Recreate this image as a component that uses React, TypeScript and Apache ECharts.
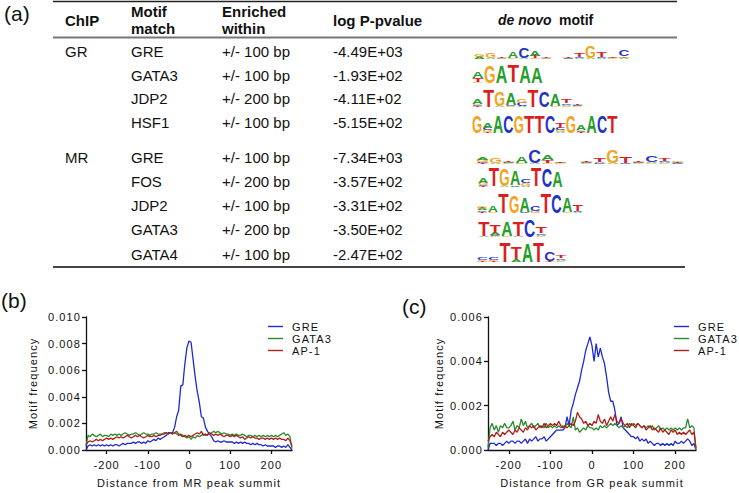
import React, { useEffect, useRef } from "react";
import * as echarts from "echarts";

// ---------------- (a) table data ----------------
const headerChip = "ChIP";
const headerMotif = ["Motif", "match"];
const headerEnriched = ["Enriched", "within"];
const headerPval = "log P-pvalue";
const chipLabels = ["GR", "", "", "", "MR", "", "", "", ""];
const motifMatches = ["GRE", "GATA3", "JDP2", "HSF1", "GRE", "FOS", "JDP2", "GATA3", "GATA4"];
const enrichedWithin = ["+/- 100 bp", "+/- 100 bp", "+/- 200 bp", "+/- 100 bp", "+/- 100 bp", "+/- 200 bp", "+/- 100 bp", "+/- 200 bp", "+/- 100 bp"];
const logPValues = ["-4.49E+03", "-1.93E+02", "-4.11E+02", "-5.15E+02", "-7.34E+03", "-3.57E+02", "-3.31E+02", "-3.50E+02", "-2.47E+02"];

// de novo motif logos: each column lists [letter, height] from top to bottom
type Stack = [string, number][];
const logoGR_GRE: Stack[] = [
  [["G", 2.5], ["A", 2]],
  [["G", 5], ["A", 1]],
  [["T", 0.8], ["A", 0.7], ["G", 0.5]],
  [["A", 6], ["G", 0.8]],
  [["C", 11], ["A", 0.8]],
  [["A", 4.5], ["T", 2.5], ["G", 0.7]],
  [["T", 0.8], ["A", 0.7], ["G", 0.5]],
  [],
  [["T", 0.8], ["A", 0.6], ["C", 0.5]],
  [["T", 4], ["C", 1], ["A", 0.8]],
  [["G", 12], ["A", 0.8]],
  [["T", 5.5], ["C", 0.8], ["A", 0.6]],
  [["T", 0.8], ["A", 0.6], ["G", 0.6]],
  [["C", 6], ["G", 1.2], ["T", 0.8], ["A", 0.6]],
];
const logoGR_GATA3: Stack[] = [
  [["A", 6], ["T", 4], ["G", 1]],
  [["G", 17]],
  [["A", 17]],
  [["T", 17]],
  [["A", 17]],
  [["A", 16]],
];
const logoGR_JDP2: Stack[] = [
  [["A", 5], ["G", 1.5], ["C", 1], ["T", 0.8]],
  [["T", 17]],
  [["G", 15], ["A", 1]],
  [["A", 12], ["C", 1], ["G", 1]],
  [["G", 4], ["C", 3.5], ["A", 0.8]],
  [["T", 17]],
  [["C", 16]],
  [["A", 12], ["G", 1]],
  [["T", 4], ["C", 1.5], ["A", 1], ["G", 1]],
  [["T", 0.8], ["A", 0.8], ["C", 0.6], ["G", 0.6]],
];
const logoGR_HSF1: Stack[] = [
  [["G", 17]],
  [["A", 5], ["C", 2], ["G", 2], ["T", 1]],
  [["A", 17]],
  [["C", 17]],
  [["G", 17]],
  [["T", 17]],
  [["T", 17]],
  [["C", 17]],
  [["T", 5], ["C", 2], ["G", 2], ["A", 1]],
  [["G", 17]],
  [["A", 5], ["G", 1.5], ["C", 1], ["T", 1]],
  [["A", 17]],
  [["C", 17]],
  [["T", 17]],
];
const logoMR_GRE: Stack[] = [
  [["A", 3], ["G", 2], ["C", 1], ["T", 1]],
  [["G", 5], ["A", 1]],
  [["T", 0.8], ["A", 0.8], ["C", 0.6], ["G", 0.6]],
  [["A", 7], ["G", 1]],
  [["C", 13], ["A", 0.8]],
  [["A", 5], ["T", 2.5], ["G", 1]],
  [["T", 0.8], ["A", 0.8], ["G", 0.6]],
  [],
  [["T", 0.8], ["A", 0.7], ["C", 0.6], ["G", 0.6]],
  [["T", 4], ["A", 1], ["C", 1]],
  [["G", 13], ["A", 1]],
  [["T", 6], ["C", 1]],
  [["T", 0.8], ["A", 0.7], ["C", 0.6], ["G", 0.6]],
  [["C", 7], ["A", 1], ["G", 1]],
  [["T", 2.5], ["C", 1.5], ["A", 1], ["G", 1]],
  [["G", 0.8], ["A", 0.8], ["T", 0.6], ["C", 0.6]],
];
const logoMR_FOS: Stack[] = [
  [["A", 5], ["G", 2], ["C", 1], ["T", 1]],
  [["T", 19]],
  [["G", 17], ["A", 1]],
  [["A", 15], ["C", 1]],
  [["C", 4], ["G", 3], ["A", 1]],
  [["T", 19]],
  [["C", 18]],
  [["A", 16]],
];
const logoMR_JDP2: Stack[] = [
  [["G", 2.5], ["A", 2], ["C", 1.5], ["T", 1]],
  [["A", 6], ["G", 1]],
  [["T", 20]],
  [["G", 17]],
  [["A", 14], ["C", 1]],
  [["C", 5], ["G", 2]],
  [["T", 20]],
  [["C", 18]],
  [["A", 14], ["G", 1]],
  [["T", 6], ["C", 1], ["A", 1]],
];
const logoMR_GATA3: Stack[] = [
  [["T", 14], ["A", 1]],
  [["T", 8], ["A", 2], ["C", 1], ["G", 1]],
  [["A", 15], ["G", 1]],
  [["T", 14], ["A", 1]],
  [["C", 17]],
  [["T", 6], ["C", 1.5], ["A", 1], ["G", 1]],
];
const logoMR_GATA4: Stack[] = [
  [["C", 2], ["G", 1.5], ["T", 1]],
  [["C", 2], ["G", 1.5], ["T", 1]],
  [["T", 20]],
  [["T", 12], ["A", 3]],
  [["A", 19]],
  [["T", 20]],
  [["C", 9], ["T", 1]],
  [["T", 3], ["C", 1.5], ["A", 1], ["G", 1]],
];
const logos = [logoGR_GRE, logoGR_GATA3, logoGR_JDP2, logoGR_HSF1, logoMR_GRE, logoMR_FOS, logoMR_JDP2, logoMR_GATA3, logoMR_GATA4];

// ---------------- (b), (c) profile data (motif frequency, units of 1e-4) ----------------
const distance = [
  -250, -245, -240, -235, -230, -225, -220, -215, -210, -205,
  -200, -195, -190, -185, -180, -175, -170, -165, -160, -155,
  -150, -145, -140, -135, -130, -125, -120, -115, -110, -105,
  -100, -95, -90, -85, -80, -75, -70, -65, -60, -55,
  -50, -45, -40, -35, -30, -25, -20, -15, -10, -5,
  0, 5, 10, 15, 20, 25, 30, 35, 40, 45,
  50, 55, 60, 65, 70, 75, 80, 85, 90, 95,
  100, 105, 110, 115, 120, 125, 130, 135, 140, 145,
  150, 155, 160, 165, 170, 175, 180, 185, 190, 195,
  200, 205, 210, 215, 220, 225, 230, 235, 240, 245,
  250,
];
const mrGRE = [
  0, 3, 4, 3, 4, 3, 4, 3, 4, 3,
  4, 3, 4, 3, 4, 4, 3, 4, 5, 4,
  5, 5, 5, 6, 5, 6, 6, 5, 6, 5,
  7, 6, 7, 8, 7, 9, 8, 9, 10, 11,
  13, 13, 13, 17, 25, 30, 48, 49, 65, 77,
  82, 81, 68, 55, 44, 36, 25, 24, 17, 14,
  12, 10, 7, 6, 7, 6, 6, 7, 6, 6,
  6, 6, 5, 6, 5, 6, 5, 6, 5, 5,
  4, 5, 4, 5, 4, 4, 3, 4, 3, 3,
  3, 3, 2, 3, 3, 2, 3, 2, 4, 2,
  0,
];
const mrGATA3 = [
  3, 11, 10, 12, 11, 10, 11, 12, 10, 11,
  11, 10, 12, 11, 12, 11, 12, 11, 12, 13,
  12, 11, 12, 12, 13, 12, 11, 12, 13, 12,
  12, 11, 12, 12, 13, 12, 12, 12, 13, 13,
  12, 13, 12, 13, 12, 11, 12, 11, 10, 9,
  10, 8, 10, 9, 11, 10, 11, 12, 11, 12,
  12, 13, 14, 13, 14, 13, 12, 13, 12, 12,
  11, 12, 11, 12, 11, 11, 12, 11, 10, 11,
  11, 10, 11, 10, 11, 10, 11, 10, 11, 10,
  11, 10, 11, 10, 11, 12, 13, 11, 12, 10,
  1,
];
const mrAP1 = [
  4, 6, 7, 6, 7, 8, 7, 8, 7, 8,
  9, 8, 9, 8, 9, 10, 9, 10, 9, 10,
  11, 10, 9, 10, 11, 10, 11, 10, 9, 10,
  11, 10, 10, 11, 10, 11, 11, 12, 12, 13,
  12, 13, 12, 13, 14, 12, 11, 10, 11, 10,
  11, 10, 11, 12, 13, 12, 14, 11, 12, 11,
  13, 12, 11, 12, 11, 12, 11, 10, 11, 11,
  10, 11, 10, 11, 10, 9, 10, 8, 9, 10,
  9, 10, 9, 9, 8, 9, 9, 8, 9, 8,
  9, 8, 9, 8, 9, 8, 8, 7, 9, 7,
  3,
];
const grGRE = [
  0, 3, 3, 3, 2, 3, 3, 2, 3, 4,
  3, 4, 4, 3, 4, 4, 3, 4, 5, 3,
  5, 4, 5, 6, 4, 5, 5, 6, 4, 5,
  6, 7, 8, 9, 9, 9, 9, 10, 15, 11,
  18, 21, 25, 28, 31, 36, 40, 45, 48, 51,
  47, 40, 48, 42, 46, 42, 39, 33, 26, 22,
  22, 18, 11, 12, 15, 10, 9, 8, 7, 6,
  6, 5, 6, 4, 5, 4, 5, 3, 4, 3,
  2, 3, 3, 2, 3, 2, 3, 2, 3, 2,
  4, 3, 3, 4, 3, 4, 5, 4, 2, 3,
  0,
];
const grGATA3 = [
  1, 10, 12, 9, 11, 8, 11, 10, 12, 10,
  10, 11, 13, 9, 11, 10, 14, 11, 13, 10,
  11, 12, 10, 11, 12, 10, 11, 10, 12, 10,
  11, 10, 11, 10, 11, 10, 11, 10, 12, 11,
  10, 15, 9, 10, 8, 9, 10, 9, 11, 10,
  10, 9, 10, 9, 11, 10, 11, 10, 11, 12,
  11, 12, 11, 10, 11, 10, 11, 10, 12, 11,
  12, 11, 12, 11, 10, 11, 10, 11, 10, 11,
  9, 10, 11, 9, 10, 9, 10, 9, 10, 9,
  10, 9, 10, 9, 10, 10, 14, 10, 11, 10,
  0,
];
const grAP1 = [
  4, 6, 7, 6, 8, 7, 6, 8, 7, 8,
  9, 8, 7, 9, 8, 10, 9, 8, 10, 9,
  11, 10, 11, 9, 10, 11, 10, 12, 10, 11,
  12, 11, 12, 11, 13, 11, 10, 11, 10, 11,
  12, 11, 13, 17, 15, 14, 12, 13, 11, 12,
  11, 13, 12, 16, 13, 12, 14, 11, 13, 15,
  13, 16, 13, 12, 14, 12, 11, 12, 10, 12,
  11, 10, 12, 11, 10, 11, 9, 10, 11, 9,
  10, 9, 8, 10, 8, 9, 8, 7, 9, 8,
  9, 7, 8, 7, 8, 7, 8, 9, 7, 8,
  1,
];
const seriesNames = ["GRE", "GATA3", "AP-1"];
const xTickValues = [-200, -100, 0, 100, 200];
const xNameB = "Distance from MR peak summit";
const xNameC = "Distance from GR peak summit";
const yName = "Motif frequency";

// ---------------- layout & style ----------------
const FONT = '"Liberation Sans", Arial, Helvetica, sans-serif';
const INK = "#111";
const ROW_Y = [51, 75, 98.5, 122, 157, 181, 205.5, 229.5, 254];
const COL_X = [65, 131, 222, 333];
const LOGO_LAYOUT = [
  { x0: 474, w: 11.1, base: 59 },
  { x0: 472, w: 11.8, base: 83 },
  { x0: 472, w: 11.1, base: 107 },
  { x0: 472, w: 10.4, base: 133 },
  { x0: 476, w: 13, base: 164 },
  { x0: 478, w: 10.6, base: 187 },
  { x0: 477, w: 10.6, base: 213 },
  { x0: 478, w: 11.5, base: 237 },
  { x0: 477, w: 11.2, base: 262 },
];
const LETTER_COLOR: Record<string, string> = { A: "#24a02a", C: "#1f33c8", G: "#f2a41c", T: "#da1f1f" };
const LETTER_ADV: Record<string, number> = { A: 0.722, C: 0.722, G: 0.778, T: 0.611 };
const LINE_COLORS = ["#1f2ad2", "#2b8a2b", "#b01e1e"];

function txt(x: number, y: number, text: string, size: number, weight = "normal", fstyle = "normal", align = "left") {
  return {
    type: "text",
    x,
    y,
    silent: true,
    style: {
      text,
      fill: INK,
      fontSize: size,
      fontWeight: weight,
      fontStyle: fstyle,
      fontFamily: FONT,
      align,
      verticalAlign: "middle",
      textAlign: align,
      textVerticalAlign: "middle",
    },
  };
}

function logoElements(cols: Stack[], x0: number, w: number, base: number) {
  const els: any[] = [];
  const S = 20;
  cols.forEach((col, p) => {
    let y = base;
    for (let k = col.length - 1; k >= 0; k--) {
      const [ch, h] = col[k];
      els.push({
        type: "text",
        x: x0 + (p + 0.5) * w,
        y: y - h / 2,
        scaleX: (w * 0.98) / (LETTER_ADV[ch] * S),
        scaleY: h / (0.716 * S),
        silent: true,
        style: {
          text: ch,
          fill: LETTER_COLOR[ch],
          fontSize: S,
          fontWeight: "bold",
          fontFamily: FONT,
          align: "center",
          verticalAlign: "middle",
          textAlign: "center",
          textVerticalAlign: "middle",
        },
      });
      y -= h;
    }
  });
  return els;
}

function hline(x1: number, x2: number, y: number, color: string, width: number) {
  return { type: "line", silent: true, shape: { x1, y1: y, x2, y2: y }, style: { stroke: color, lineWidth: width } };
}

function buildTableOption() {
  const els: any[] = [];
  els.push(txt(4, 13, "(a)", 21));
  els.push(txt(1, 300, "(b)", 21));
  els.push(txt(402, 306, "(c)", 21));
  els.push(hline(53, 677, 1.5, "#222", 1.5));
  els.push(hline(53, 677, 37.5, "#777", 2));
  els.push(hline(53, 685, 267, "#444", 2));
  els.push(txt(COL_X[0], 20, headerChip, 15, "bold"));
  els.push(txt(COL_X[1], 11, headerMotif[0], 15, "bold"));
  els.push(txt(COL_X[1], 28, headerMotif[1], 15, "bold"));
  els.push(txt(COL_X[2], 11, headerEnriched[0], 15, "bold"));
  els.push(txt(COL_X[2], 28, headerEnriched[1], 15, "bold"));
  els.push(txt(COL_X[3], 20, headerPval, 15, "bold"));
  els.push(txt(498, 20, "de novo", 14, "bold", "italic"));
  els.push(txt(559, 20, "motif", 14, "bold"));
  ROW_Y.forEach((y, i) => {
    if (chipLabels[i]) els.push(txt(COL_X[0], y, chipLabels[i], 15));
    els.push(txt(COL_X[1], y, motifMatches[i], 15));
    els.push(txt(COL_X[2], y, enrichedWithin[i], 15));
    els.push(txt(COL_X[3], y, logPValues[i], 15));
  });
  logos.forEach((cols, i) => {
    const L = LOGO_LAYOUT[i];
    els.push(...logoElements(cols, L.x0, L.w, L.base));
  });
  return { animation: false, graphic: els };
}

const axisText = { fontSize: 11, color: INK, fontFamily: FONT };

function mkX(gi: number, name: string) {
  return {
    type: "value",
    gridIndex: gi,
    min: -250,
    max: 250,
    name,
    nameLocation: "middle",
    nameGap: 27,
    nameTextStyle: axisText,
    axisLine: { show: true, onZero: false, lineStyle: { color: INK, width: 1.3 } },
    axisTick: { show: true, length: 4, customValues: xTickValues, lineStyle: { color: INK, width: 1.3 } },
    axisLabel: { ...axisText, customValues: xTickValues, margin: 9 },
    splitLine: { show: false },
  };
}

function mkY(gi: number, max: number, gap: number) {
  return {
    type: "value",
    gridIndex: gi,
    min: 0,
    max,
    interval: 20,
    name: yName,
    nameLocation: "middle",
    nameGap: gap,
    nameTextStyle: axisText,
    axisLine: { show: true, onZero: false, lineStyle: { color: INK, width: 1.3 } },
    axisTick: { show: true, length: 4, lineStyle: { color: INK, width: 1.3 } },
    axisLabel: { ...axisText, margin: 5, formatter: (v: number) => (v / 10000).toFixed(3) },
    splitLine: { show: false },
  };
}

function mkSeries(gi: number, vals: number[][]) {
  return vals.map((arr, k) => ({
    type: "line",
    name: seriesNames[k],
    xAxisIndex: gi,
    yAxisIndex: gi,
    data: distance.map((d, i) => [d, arr[i]]),
    symbol: "none",
    lineStyle: { color: LINE_COLORS[k], width: 1.3 },
    itemStyle: { color: LINE_COLORS[k] },
  }));
}

function mkLegend(left: number) {
  return {
    left,
    top: 41,
    orient: "vertical",
    padding: 0,
    itemWidth: 15,
    itemHeight: 12,
    itemGap: 1,
    icon: "path://M0,0L15,0L15,1.4L0,1.4Z",
    data: seriesNames,
    textStyle: { ...axisText, padding: [0, 0, 0, 4] },
  };
}

function buildPlotOption() {
  return {
    animation: false,
    grid: [
      { left: 86, top: 37, width: 206, height: 137 },
      { left: 488, top: 37, width: 208, height: 137 },
    ],
    xAxis: [mkX(0, xNameB), mkX(1, xNameC)],
    yAxis: [mkY(0, 100, 48), mkY(1, 60, 44)],
    legend: [mkLegend(268), mkLegend(674)],
    series: [...mkSeries(0, [mrGRE, mrGATA3, mrAP1]), ...mkSeries(1, [grGRE, grGATA3, grAP1])],
  };
}

export default function App() {
  const refA = useRef<HTMLDivElement>(null);
  const refB = useRef<HTMLDivElement>(null);
  useEffect(() => {
    const a = echarts.init(refA.current!, null, { renderer: "svg" });
    a.setOption(buildTableOption() as any);
    const b = echarts.init(refB.current!, null, { renderer: "svg" });
    b.setOption(buildPlotOption() as any);
    return () => {
      a.dispose();
      b.dispose();
    };
  }, []);
  return (
    <div style={{ position: "absolute", left: 0, top: 0, width: 739, height: 493, background: "#fff" }}>
      <style>{`.plots text { letter-spacing: 1.1px; }`}</style>
      <div ref={refA} style={{ position: "absolute", left: 0, top: 0, width: 739, height: 493 }} />
      <div ref={refB} className="plots" style={{ position: "absolute", left: 0, top: 280, width: 739, height: 213 }} />
    </div>
  );
}
